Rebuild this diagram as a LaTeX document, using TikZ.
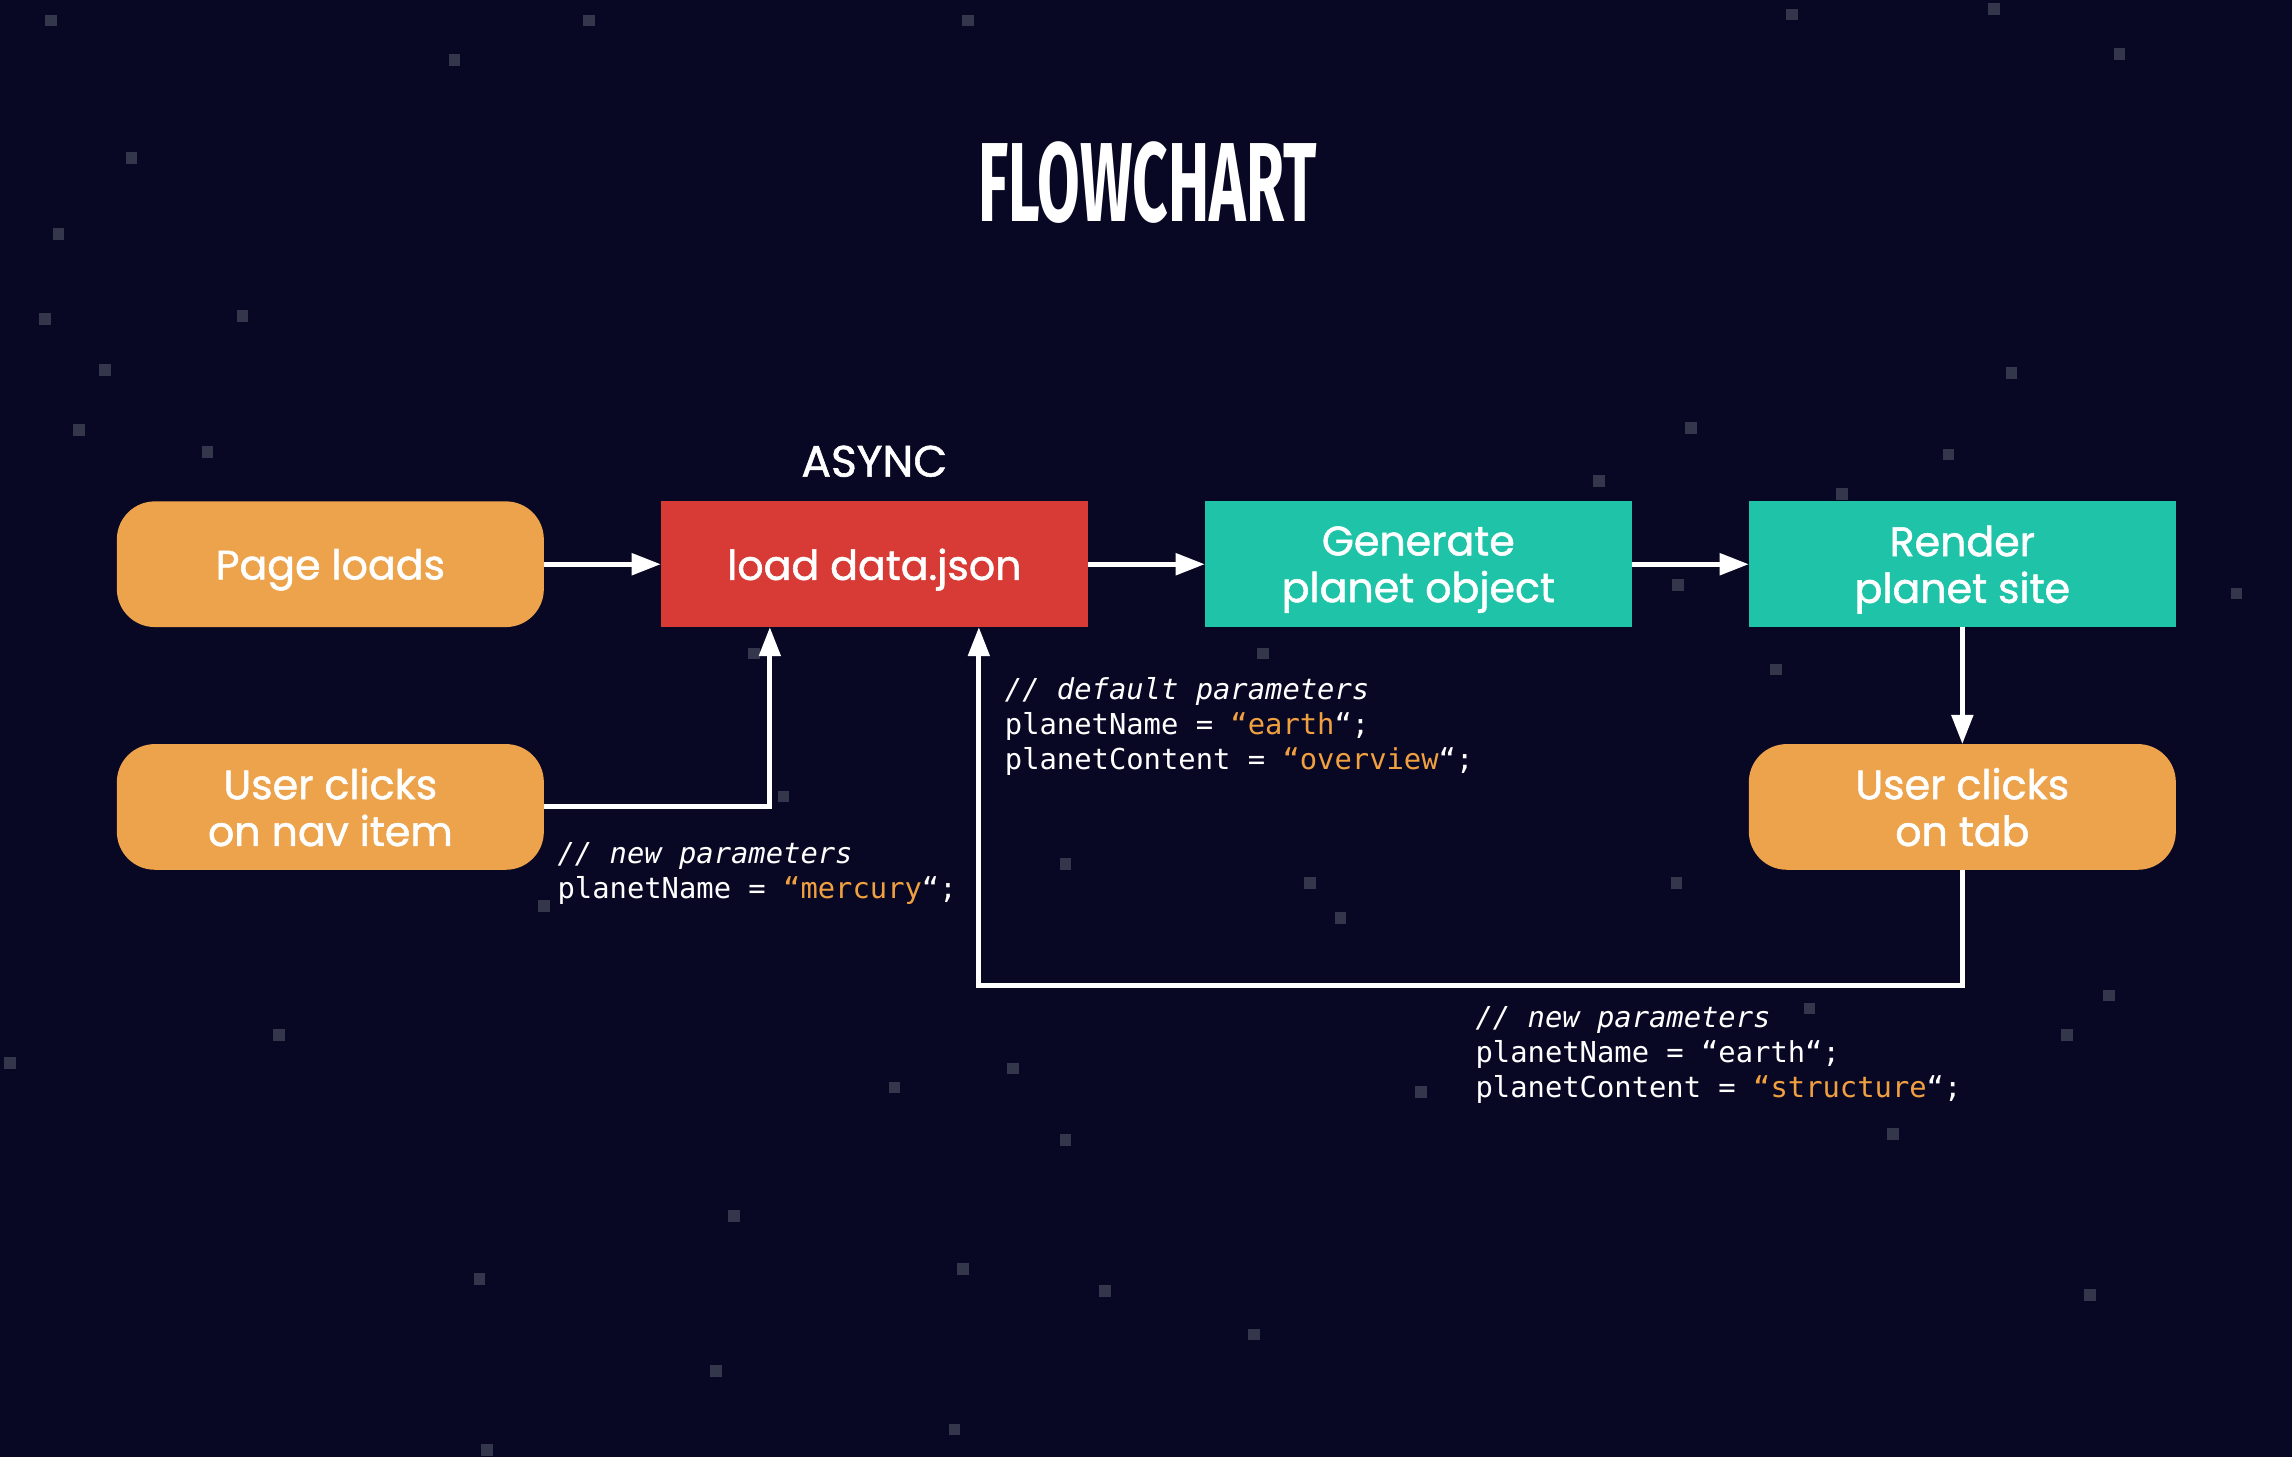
\documentclass[tikz,border=0pt]{standalone}
\usepackage{fontspec}
\usepackage{graphicx}
\setmainfont{Poppins}[FakeBold=1.3]
\newfontfamily\titlefont{Fira Sans}
\newfontfamily\codefont{DejaVu Sans Mono}
\usetikzlibrary{arrows.meta, positioning}
\definecolor{night}{HTML}{080824}
\definecolor{dust}{HTML}{34364C}
\definecolor{sand}{HTML}{ECA34B}
\definecolor{brick}{HTML}{D83B35}
\definecolor{mint}{HTML}{1FC3A7}
\definecolor{strval}{HTML}{F0A040}
\newcommand{\quoted}[1]{\textcolor{strval}{#1}}
\tikzset{
  box/.style={rectangle,align=center,text=white,minimum width=4.27cm,minimum height=1.257cm,inner sep=2pt,outer sep=0pt,text depth=0pt,font=\fontsize{11.7}{13.3}\selectfont},
  pill/.style={box,fill=sand,rounded corners=0.38cm},
  fetch/.style={box,fill=brick},
  stage/.style={box,fill=mint},
  line/.style={-{Triangle[length=8.3pt,width=6pt]},draw=white,line width=1.4pt},
  code/.style={anchor=north west,align=left,inner sep=0pt,text=white,font=\codefont\fontsize{8.2}{10}\selectfont},
  star/.style={fill=dust}
}

\begin{document}
\begin{tikzpicture}[x=0.014617cm, y=-0.014617cm, node distance=1.17cm]
\fill[night] (0,0) rectangle (1568,997);
% background stars
\foreach \sx/\sy in {31/10, 399/10, 658/10, 1222/6, 1360/2, 1446/33, 307/37, 86/104, 36/156, 162/212,
  27/214, 68/249, 50/290, 138/305, 1372/251, 1153/289, 1329/307, 1090/325, 1256/334, 1526/402,
  1144/396, 860/443, 1211/454, 532/541, 512/443, 725/587, 892/600, 1143/600, 913/624, 368/616,
  1234/686, 1439/677, 1410/704, 3/723, 187/704, 608/740, 689/727, 968/743, 725/776, 1291/772,
  498/828, 655/864, 324/871, 752/879, 854/909, 1426/882, 486/934, 649/974, 329/988}
  \fill[star] (\sx,\sy) rectangle ++(8,8);

\node[text=white, font=\titlefont\bfseries\fontsize{32}{32}\selectfont] (title) at (785,125) {\scalebox{0.55}[1]{FLOWCHART}};

\node[pill] (page) at (226,386) {Page loads};
\node[fetch, right=of page] (load) {load data.json};
\node[stage, right=of load] (gen) {Generate\\planet object};
\node[stage, right=of gen] (render) {Render\\planet site};
\node[pill, below=of page] (nav) {User clicks\\on nav item};
\node[pill, below=of render] (tab) {User clicks\\on tab};
\node[text=white, font=\fontsize{12.5}{13}\selectfont, above=1.2mm of load] (async) {ASYNC};
\coordinate[below=1.16cm of tab] (back);

\draw[line] (page) -- (load);
\draw[line] (load) -- (gen);
\draw[line] (gen) -- (render);
\draw[line] (render) -- (tab);
\draw[line] (nav.east) -| ([xshift=-1.045cm]load.south);
\draw[line] (tab.south) -- (back) -| ([xshift=1.045cm]load.south);

\node[code] (defaults) at (687,463) {{\itshape // default parameters}\\
planetName = \quoted{“earth}“;\\
planetContent = \quoted{“overview}“;};
\node[code] (navparams) at (381,576) {{\itshape // new parameters}\\
planetName = \quoted{“mercury}“;};
\node[code] (tabparams) at (1009,688) {{\itshape // new parameters}\\
planetName = “earth“;\\
planetContent = \quoted{“structure}“;};
\end{tikzpicture}
\end{document}
